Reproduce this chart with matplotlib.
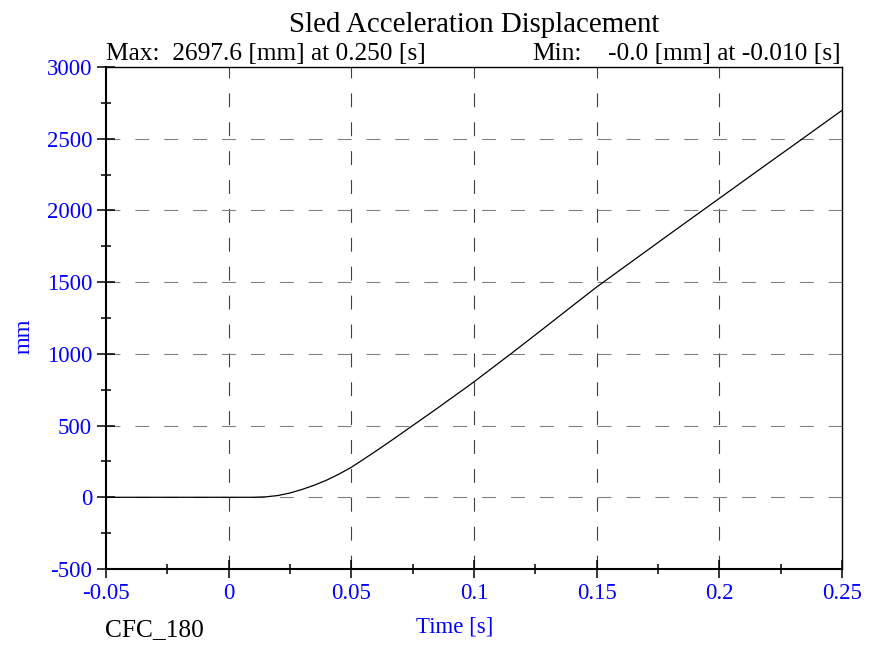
import matplotlib
matplotlib.use("Agg")
from matplotlib import pyplot as plt
from matplotlib.ticker import MultipleLocator, FixedLocator

# time [s] and sled displacement [mm]
time_s = [-0.05, -0.04, -0.03, -0.02, -0.01, 0.0, 0.005, 0.010, 0.015, 0.020,
          0.025, 0.030, 0.035, 0.040, 0.045, 0.050, 0.055, 0.060, 0.065,
          0.070, 0.075, 0.080, 0.085, 0.090, 0.095, 0.100, 0.105, 0.110,
          0.115, 0.120, 0.130, 0.140, 0.150, 0.160, 0.170, 0.180, 0.190,
          0.200, 0.210, 0.220, 0.230, 0.240, 0.250]
disp_mm = [0, 0, 0, 0, 0, 0, 0, 0, 3, 12,
           30, 55, 85, 120, 162, 209, 265, 322, 380,
           440, 500, 560, 620, 682, 743, 805, 870, 935,
           1000, 1066, 1199, 1333, 1466, 1590, 1714, 1838, 1961,
           2084, 2207, 2330, 2452, 2575, 2697.6]

x_ticks = [-0.05, 0, 0.05, 0.1, 0.15, 0.2, 0.25]
x_labels = ["-0.05", "0", "0.05", "0.1", "0.15", "0.2", "0.25"]
y_ticks = [-500, 0, 500, 1000, 1500, 2000, 2500, 3000]
y_labels = ["-500", "0", "500", "1000", "1500", "2000", "2500", "3000"]

title = "Sled Acceleration Displacement"
max_text = "Max:  2697.6 [mm] at 0.250 [s]"
min_label = "Min:"
min_text = "-0.0 [mm] at -0.010 [s]"
filter_name = "CFC_180"

plt.rcParams["font.family"] = ["Liberation Serif", "DejaVu Serif"]
plt.rcParams["lines.scale_dashes"] = False
plt.rcParams["axes.unicode_minus"] = False

W, H = 882, 648
fig = plt.figure(figsize=(W / 100, H / 100), dpi=100)
left, right, top, bottom = 106, 842, 67, 569
ax = fig.add_axes([left / W, (H - bottom) / H, (right - left) / W, (bottom - top) / H])

ax.plot(time_s, disp_mm, color="black", lw=0.9, zorder=3)

ax.set_xlim(-0.05, 0.25)
ax.set_ylim(-500, 3000)
ax.xaxis.set_major_locator(FixedLocator(x_ticks))
ax.set_xticklabels(x_labels)
ax.xaxis.set_minor_locator(MultipleLocator(0.025))
ax.yaxis.set_major_locator(FixedLocator(y_ticks))
ax.set_yticklabels(y_labels)
ax.yaxis.set_minor_locator(MultipleLocator(250))

ax.tick_params(which="major", direction="inout", length=13, width=1.1,
               color="black", labelcolor="blue", labelsize=16.5, pad=3.5)
ax.tick_params(which="minor", direction="inout", length=7, width=1.1, color="black")

dash = (0, (10, 10.8))
for xv in x_ticks[1:-1]:
    ax.axvline(xv, color="#404040", lw=0.8, linestyle=dash, zorder=1)
for yv in y_ticks[1:-1]:
    ax.axhline(yv, color="#808080", lw=0.8, linestyle=dash, zorder=1)

for side in ["left", "bottom"]:
    ax.spines[side].set_linewidth(1.5)
for side in ["top", "right"]:
    ax.spines[side].set_linewidth(1.0)


def px(x, y):
    return x / W, (H - y) / H


fig.text(*px(474, 31.5), title, ha="center", va="baseline", fontsize=20.8)
fig.text(*px(106, 59.5), max_text, ha="left", va="baseline", fontsize=18.3)
fig.text(*px(532, 59.5), min_label, ha="left", va="baseline", fontsize=18.3)
fig.text(*px(841, 59.5), min_text, ha="right", va="baseline", fontsize=18.3)
fig.text(*px(455, 633), "Time [s]", ha="center", va="baseline", fontsize=16.5, color="blue")
fig.text(*px(105, 636), filter_name, ha="left", va="baseline", fontsize=18.3)
fig.text(*px(24, 336.5), "mm", ha="center", va="center", rotation=90, fontsize=16.5, color="blue")

fig.savefig("out.png", dpi=100)
